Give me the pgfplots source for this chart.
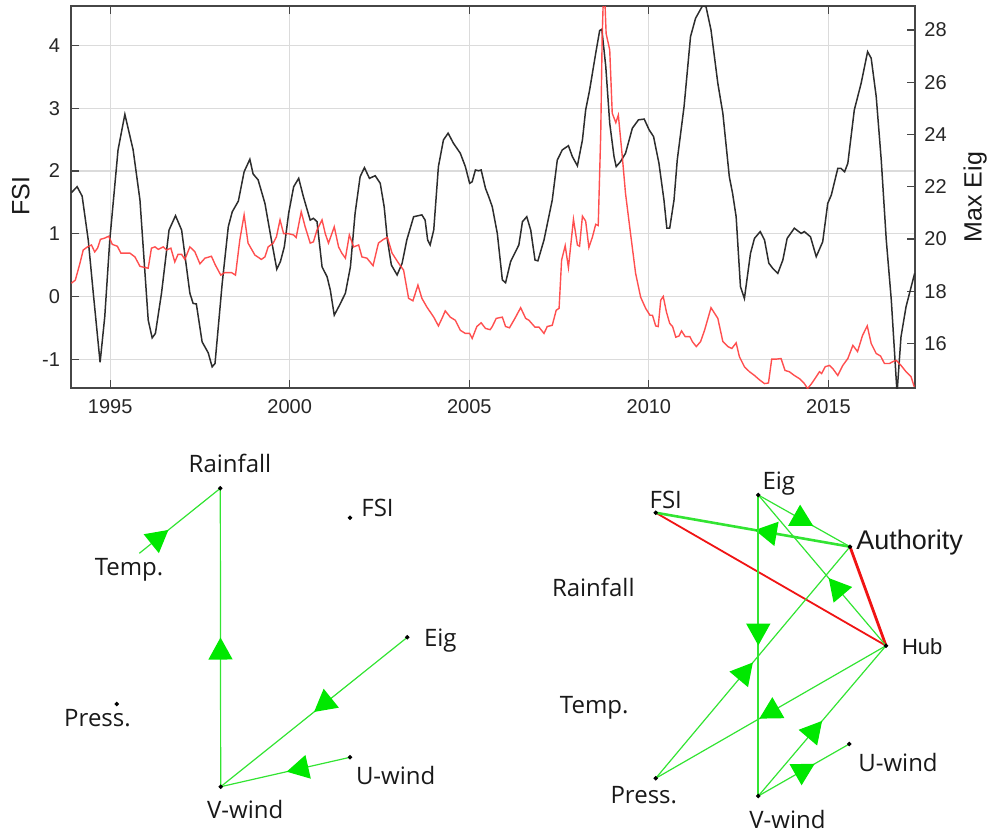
\documentclass[border=0pt]{standalone}
\usepackage{fontspec}
\setmainfont{Liberation Sans}
\newfontfamily\netfont{Open Sans}
\usepackage{pgfplots}
\pgfplotsset{compat=1.18}
\usetikzlibrary{arrows.meta,decorations.markings}

\definecolor{edgegreen}{RGB}{50,228,50}
\definecolor{arrgreen}{RGB}{0,232,0}
\definecolor{fsired}{RGB}{255,60,60}
\definecolor{eigblack}{RGB}{45,45,45}
\definecolor{netred}{RGB}{240,20,20}
\definecolor{axisgray}{RGB}{70,70,70}

\tikzset{
  arr/.style={postaction={decorate},
    decoration={markings, mark=at position #1 with {\arrow{Triangle[length=11pt,width=12pt,color=arrgreen]}}}},
}

\pgfplotstableread{
year fsi
1993.92 0.21
1994.03 0.26
1994.16 0.53
1994.25 0.74
1994.37 0.79
1994.48 0.82
1994.57 0.71
1994.65 0.77
1994.73 0.91
1994.85 0.93
1994.96 0.96
1995.06 0.83
1995.20 0.80
1995.30 0.69
1995.41 0.69
1995.55 0.69
1995.69 0.63
1995.83 0.48
1995.97 0.46
1996.06 0.45
1996.15 0.77
1996.25 0.79
1996.34 0.75
1996.48 0.79
1996.57 0.74
1996.69 0.77
1996.80 0.55
1996.89 0.67
1996.99 0.67
1997.08 0.59
1997.22 0.79
1997.36 0.71
1997.50 0.52
1997.64 0.61
1997.82 0.64
1997.93 0.50
1998.08 0.34
1998.19 0.38
1998.38 0.38
1998.49 0.34
1998.61 0.90
1998.73 1.30
1998.84 0.85
1999.03 0.66
1999.21 0.59
1999.31 0.63
1999.40 0.79
1999.54 0.85
1999.63 0.95
1999.73 1.22
1999.83 1.00
1999.97 1.00
2000.11 0.98
2000.18 0.94
2000.32 1.35
2000.43 1.11
2000.57 0.85
2000.66 0.87
2000.76 1.06
2000.90 1.22
2000.99 1.00
2001.08 0.85
2001.24 1.11
2001.36 0.79
2001.45 0.69
2001.55 0.61
2001.66 0.98
2001.78 0.79
2001.92 0.82
2002.01 0.63
2002.15 0.61
2002.32 0.49
2002.47 0.85
2002.61 0.91
2002.72 0.94
2002.85 0.69
2003.03 0.53
2003.17 0.42
2003.31 -0.03
2003.43 -0.07
2003.57 0.18
2003.68 -0.03
2003.82 -0.17
2004.01 -0.33
2004.14 -0.47
2004.24 -0.35
2004.33 -0.23
2004.47 -0.33
2004.61 -0.38
2004.75 -0.54
2004.89 -0.59
2005.01 -0.59
2005.08 -0.67
2005.21 -0.48
2005.33 -0.42
2005.45 -0.51
2005.58 -0.53
2005.64 -0.48
2005.75 -0.35
2005.92 -0.33
2006.01 -0.48
2006.12 -0.50
2006.27 -0.35
2006.43 -0.18
2006.57 -0.35
2006.66 -0.38
2006.83 -0.49
2006.94 -0.49
2007.08 -0.59
2007.17 -0.48
2007.31 -0.46
2007.42 -0.22
2007.50 -0.19
2007.57 0.58
2007.67 0.81
2007.76 0.46
2007.90 1.23
2008.01 0.82
2008.07 0.80
2008.15 1.28
2008.24 1.20
2008.33 0.78
2008.43 0.95
2008.52 1.15
2008.59 1.13
2008.66 2.60
2008.70 4.14
2008.75 5.10
2008.81 4.19
2008.91 3.93
2008.98 2.92
2009.08 2.77
2009.15 2.89
2009.26 2.23
2009.35 1.64
2009.49 1.00
2009.63 0.37
2009.77 -0.01
2009.91 -0.19
2010.03 -0.30
2010.10 -0.30
2010.19 -0.47
2010.26 -0.48
2010.33 -0.06
2010.40 0.00
2010.49 -0.25
2010.58 -0.43
2010.66 -0.48
2010.75 -0.65
2010.84 -0.63
2010.91 -0.55
2011.01 -0.64
2011.14 -0.64
2011.21 -0.72
2011.32 -0.80
2011.44 -0.72
2011.55 -0.54
2011.73 -0.18
2011.92 -0.35
2012.06 -0.72
2012.20 -0.80
2012.31 -0.83
2012.43 -0.74
2012.52 -0.96
2012.66 -1.12
2012.80 -1.20
2012.94 -1.26
2013.08 -1.33
2013.22 -1.39
2013.33 -1.38
2013.42 -1.00
2013.54 -1.00
2013.68 -0.99
2013.79 -1.18
2013.91 -1.20
2014.05 -1.26
2014.19 -1.31
2014.33 -1.39
2014.42 -1.47
2014.53 -1.39
2014.66 -1.28
2014.75 -1.20
2014.81 -1.23
2014.91 -1.12
2015.03 -1.10
2015.12 -1.15
2015.26 -1.26
2015.40 -1.10
2015.54 -0.99
2015.68 -0.78
2015.81 -0.88
2015.95 -0.62
2016.08 -0.47
2016.19 -0.75
2016.33 -0.91
2016.45 -0.95
2016.56 -1.07
2016.70 -1.07
2016.79 -1.04
2016.89 -1.02
2017.02 -1.10
2017.16 -1.20
2017.30 -1.28
2017.39 -1.44
}\fsitable

\pgfplotstableread{
year eig
1993.92 21.77
1994.08 22.00
1994.22 21.64
1994.39 19.96
1994.53 17.93
1994.72 15.27
1994.85 17.02
1994.99 19.96
1995.22 23.41
1995.41 24.77
1995.64 23.41
1995.83 21.49
1996.06 16.89
1996.17 16.21
1996.26 16.38
1996.43 17.92
1996.64 20.34
1996.82 20.89
1996.99 20.34
1997.22 17.92
1997.31 17.53
1997.40 17.51
1997.56 16.06
1997.73 15.64
1997.84 15.10
1997.92 15.23
1998.12 18.30
1998.29 20.47
1998.40 21.04
1998.57 21.45
1998.73 22.57
1998.89 23.05
1998.98 22.49
1999.12 22.26
1999.31 21.36
1999.49 19.96
1999.64 18.84
1999.74 19.13
1999.85 19.70
1999.97 20.98
2000.11 22.00
2000.25 22.32
2000.38 21.62
2000.57 20.72
2000.66 20.79
2000.76 20.66
2000.90 18.93
2001.04 18.55
2001.13 18.04
2001.24 17.08
2001.39 17.47
2001.55 17.92
2001.69 18.93
2001.82 20.98
2001.96 22.38
2002.08 22.73
2002.22 22.32
2002.38 22.42
2002.52 22.13
2002.63 21.23
2002.72 19.96
2002.83 19.00
2002.99 18.62
2003.13 19.07
2003.26 19.96
2003.45 20.85
2003.68 20.92
2003.77 20.72
2003.84 19.96
2003.91 19.77
2004.01 20.34
2004.14 22.77
2004.28 23.79
2004.41 24.05
2004.56 23.66
2004.75 23.28
2004.89 22.77
2005.01 22.13
2005.08 22.19
2005.17 22.64
2005.26 22.61
2005.33 22.64
2005.45 21.94
2005.54 21.62
2005.64 21.23
2005.78 20.21
2005.92 18.43
2006.01 18.32
2006.15 19.13
2006.38 19.77
2006.48 20.66
2006.60 20.85
2006.71 20.34
2006.83 19.19
2006.91 19.16
2007.08 19.96
2007.31 21.49
2007.45 23.02
2007.59 23.41
2007.76 23.57
2007.87 23.15
2008.01 22.80
2008.15 23.79
2008.24 24.94
2008.35 25.70
2008.52 27.11
2008.63 27.98
2008.69 28.03
2008.80 26.60
2008.91 24.43
2009.03 23.15
2009.09 22.77
2009.21 22.96
2009.35 23.28
2009.54 24.24
2009.71 24.56
2009.87 24.59
2010.01 24.17
2010.13 23.92
2010.28 22.90
2010.42 21.49
2010.50 20.41
2010.58 20.41
2010.70 21.49
2010.79 23.02
2010.98 25.07
2011.16 27.75
2011.30 28.45
2011.49 28.92
2011.59 28.90
2011.73 28.00
2011.92 25.96
2012.06 24.81
2012.24 22.38
2012.33 21.75
2012.43 20.85
2012.55 18.17
2012.66 17.72
2012.83 19.45
2012.94 20.02
2013.10 20.28
2013.22 19.96
2013.34 19.07
2013.45 18.87
2013.59 18.68
2013.73 19.19
2013.85 20.02
2014.05 20.41
2014.24 20.21
2014.33 20.28
2014.50 20.08
2014.66 19.32
2014.84 19.89
2014.98 21.36
2015.08 21.68
2015.26 22.70
2015.35 22.70
2015.45 22.57
2015.54 22.90
2015.72 24.94
2015.91 25.96
2016.09 27.17
2016.19 26.92
2016.33 25.45
2016.47 23.02
2016.61 19.96
2016.75 17.66
2016.91 14.10
2017.02 16.25
2017.16 17.40
2017.40 18.68
}\eigtable

\begin{document}
\begin{tikzpicture}
\path[use as bounding box] (0,0) rectangle (493.5pt,-418pt);

\pgfplotsset{
  topbase/.style={
    at={(35.5pt,-194pt)}, anchor=south west, scale only axis,
    width=422pt, height=191pt,
    xmin=1993.91, xmax=2017.41,
    /pgf/number format/assume math mode=true,
    /pgf/number format/1000 sep={},
    tick label style={font=\fontsize{10}{12}\selectfont, text=black!85},
    label style={font=\fontsize{12.5}{15}\selectfont, text=black!90},
    tick align=inside, major tick length=4pt,
    axis line style={axisgray, line width=0.8pt},
    tick style={axisgray, line width=0.6pt},
  }
}

% left axis: grid, ticks, FSI label
\begin{axis}[topbase,
  ymin=-1.46, ymax=4.63,
  xtick={1995,2000,2005,2010,2015},
  ytick={-1,0,1,2,3,4},
  ytick pos=left,
  grid=major, major grid style={black!14, line width=0.6pt},
  xticklabel style={yshift=-2pt},
  yticklabel style={xshift=-2pt},
  ylabel={FSI},
  ylabel style={at={(axis description cs:-0.0595,0.503)}, anchor=center},
]
\addplot[draw=none] coordinates {(2000,0)};
\end{axis}

% right axis: Max Eig (black)
\begin{axis}[topbase,
  ymin=14.29, ymax=28.92,
  axis y line*=right, axis x line=none,
  ytick={16,18,20,22,24,26,28},
  yticklabel style={xshift=1.2pt},
  ylabel={Max Eig},
  ylabel style={at={(axis description cs:1.0714,0.5)}, anchor=center},
]
\addplot[eigblack, line width=0.75pt] table[x=year, y=eig] {\eigtable};
\end{axis}

% FSI series (red), drawn on top
\begin{axis}[topbase, hide axis, ymin=-1.46, ymax=4.63]
\addplot[fsired, line width=0.7pt, opacity=0.9] table[x=year, y=fsi] {\fsitable};
\end{axis}

% networks
\begin{axis}[at={(0pt,-418pt)}, anchor=south west, scale only axis,
  width=493.5pt, height=418pt, xmin=0, xmax=987, ymin=-836, ymax=0,
  hide axis, clip=false]
% ---- left network ----
\addplot[edgegreen, line width=0.6pt, arr=0.5] coordinates {(220.7,-786.7) (220.3,-488.3)};
\addplot[edgegreen, line width=0.6pt, arr=0.36] coordinates {(139.3,-553.3) (220.3,-488.3)};
\addplot[edgegreen, line width=0.6pt, arr=0.5] coordinates {(407.3,-637.3) (220.7,-786.7)};
\addplot[edgegreen, line width=0.6pt, arr=0.49] coordinates {(350,-757.3) (220.7,-786.7)};
\addplot[only marks, mark=*, mark size=0.9pt, black] coordinates {
 (220.3,-488.3) (350,-517.7) (407.3,-637.3) (116.7,-704) (350,-757.3) (220.7,-786.7)};
% ---- right network ----
\addplot[netred, line width=0.9pt] coordinates {(655.7,-512.7) (886,-645.7)};
\addplot[netred, line width=1.4pt] coordinates {(850,-546.7) (886,-645.7)};
\addplot[edgegreen, line width=1.3pt, arr=0.49] coordinates {(850,-546.7) (655.7,-512.7)};
\addplot[edgegreen, line width=0.6pt, arr=0.6] coordinates {(758.3,-495) (850,-546.7)};
\addplot[edgegreen, line width=0.6pt, arr=0.45] coordinates {(886,-645.7) (758.3,-495)};
\addplot[edgegreen, line width=0.9pt, arr=0.5] coordinates {(758.3,-495) (758.3,-796)};
\addplot[edgegreen, line width=0.6pt, arr=0.5] coordinates {(655.7,-778.3) (850,-546.7)};
\addplot[edgegreen, line width=0.6pt, arr=0.55] coordinates {(886,-645.7) (655.7,-778.3)};
\addplot[edgegreen, line width=0.6pt, arr=0.5] coordinates {(758.3,-796) (886,-645.7)};
\addplot[edgegreen, line width=0.6pt, arr=0.62] coordinates {(758.3,-796) (849.3,-744)};
\addplot[only marks, mark=*, mark size=0.9pt, black] coordinates {
 (758.3,-495) (655.7,-512.7) (850,-546.7) (886,-645.7) (655.7,-778.3) (758.3,-796) (849.3,-744)};

% labels
\begin{scope}[every node/.style={anchor=base, inner sep=0pt, text=black!90,
   font=\netfont\fontsize{12}{14}\selectfont}]
\node at (axis cs:230,-472.3) {Rainfall};
\node at (axis cs:377.5,-516) {FSI};
\node at (axis cs:129,-575) {Temp.};
\node at (axis cs:440.3,-646.7) {Eig};
\node at (axis cs:97.5,-726) {Press.};
\node at (axis cs:395.7,-784) {U-wind};
\node at (axis cs:245.3,-818.3) {V-wind};
\node at (axis cs:778.8,-489.3) {Eig};
\node at (axis cs:665.8,-508.3) {FSI};
\node at (axis cs:593.3,-596.7) {Rainfall};
\node at (axis cs:594.2,-713.3) {Temp.};
\node at (axis cs:643.8,-803.3) {Press.};
\node at (axis cs:898,-771.7) {U-wind};
\node at (axis cs:787.5,-828.3) {V-wind};
\node[font=\fontsize{13.5}{16}\selectfont] at (axis cs:909.7,-549.3) {Authority};
\node[font=\fontsize{11}{13}\selectfont] at (axis cs:922.2,-654) {Hub};
\end{scope}
\end{axis}
\end{tikzpicture}
\end{document}
